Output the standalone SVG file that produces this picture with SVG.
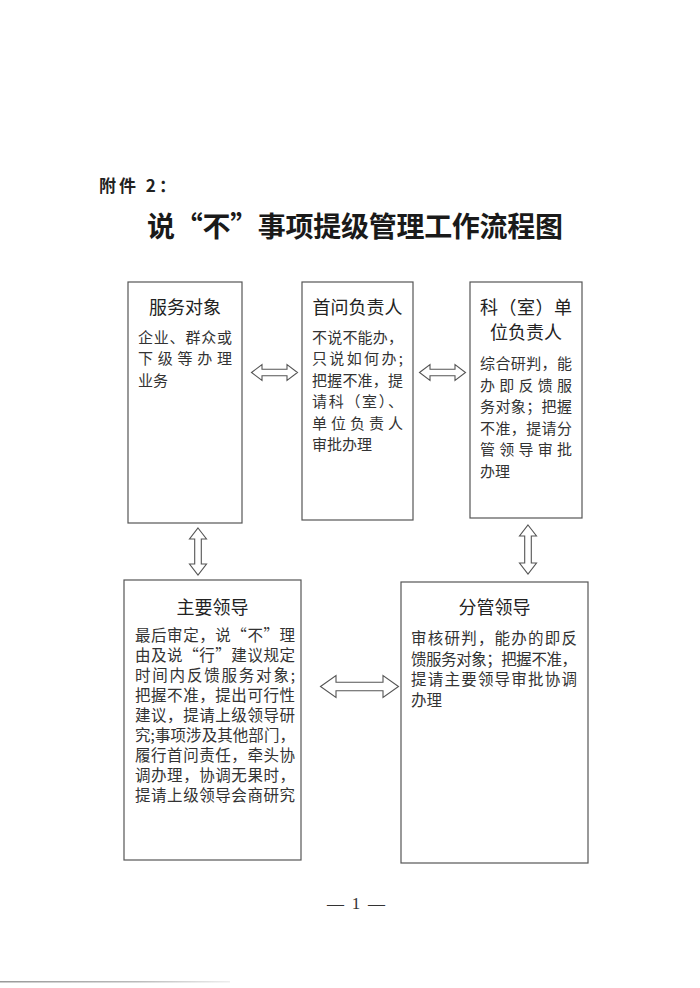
<svg xmlns="http://www.w3.org/2000/svg" width="700" height="988" viewBox="0 0 700 988">
<style>
.box{fill:#fff;stroke:#555;stroke-width:1.2}
.arr{fill:#fff;stroke:#555;stroke-width:1.1;stroke-linejoin:miter}
.h{font-family:"Noto Sans CJK SC","Noto Sans",sans-serif;font-size:18px;fill:#222;text-anchor:middle}
.b{font-family:"Noto Sans CJK SC","Noto Sans",sans-serif;font-size:15px;fill:#333}
.b2{font-family:"Noto Sans CJK SC","Noto Sans",sans-serif;font-size:15.5px;fill:#333}
</style>
<defs>
<linearGradient id="scan" x1="0" x2="1" y1="0" y2="0">
<stop offset="0" stop-color="#999"/><stop offset="0.6" stop-color="#bbb"/><stop offset="1" stop-color="#eee"/>
</linearGradient>
</defs>
<rect x="0" y="0" width="700" height="988" fill="#fff"/>
<text x="99" y="192" font-family="Noto Sans CJK SC,Noto Sans,sans-serif" font-size="17" font-weight="bold" fill="#222" letter-spacing="3">附件 2：</text>
<text x="147" y="237" font-family="Noto Sans CJK SC,Noto Sans,sans-serif" font-size="28" font-weight="bold" fill="#1a1a1a" textLength="416" lengthAdjust="spacing">说“不”事项提级管理工作流程图</text>

<g id="connectors">
<polygon class="arr" points="251.5,372.5 262,364.5 262,369.3 287,369.3 287,364.5 297.5,372.5 287,380.5 287,375.7 262,375.7 262,380.5"/>
<polygon class="arr" points="419.5,372.5 430,364.5 430,369.3 455,369.3 455,364.5 465.5,372.5 455,380.5 455,375.7 430,375.7 430,380.5"/>
<polygon class="arr" points="320.5,686.5 336,675.5 336,682.3 383,682.3 383,675.5 398.5,686.5 383,697.5 383,690.7 336,690.7 336,697.5"/>
<polygon class="arr" points="198,528 206.5,539 201.3,539 201.3,564 206.5,564 198,575 189.5,564 194.7,564 194.7,539 189.5,539"/>
<polygon class="arr" points="528,525 536.5,536 531.3,536 531.3,563 536.5,563 528,574 519.5,563 524.7,563 524.7,536 519.5,536"/>
</g>

<g id="n1">
<rect class="box" x="128" y="282" width="114" height="241"/>
<text class="h" x="185" y="314">服务对象</text>
<text class="b" x="138" y="343" textLength="94" lengthAdjust="spacing">企业、群众或</text>
<text class="b" x="138" y="364.4" textLength="94" lengthAdjust="spacing">下级等办理</text>
<text class="b" x="138" y="385.8">业务</text>
</g>

<g id="n2">
<rect class="box" x="302" y="282" width="111" height="238"/>
<text class="h" x="357.5" y="314">首问负责人</text>
<text class="b" x="312" y="343" textLength="91" lengthAdjust="spacing">不说不能办，</text>
<text class="b" x="312" y="364.4" textLength="91" lengthAdjust="spacing">只说如何办;</text>
<text class="b" x="312" y="385.8" textLength="91" lengthAdjust="spacing">把握不准，提</text>
<text class="b" x="312" y="407.2" textLength="91" lengthAdjust="spacing">请科（室）、</text>
<text class="b" x="312" y="428.6" textLength="91" lengthAdjust="spacing">单位负责人</text>
<text class="b" x="312" y="450">审批办理</text>
</g>

<g id="n3">
<rect class="box" x="470" y="282" width="112" height="236"/>
<text class="h" x="526" y="314" textLength="92" lengthAdjust="spacing">科（室）单</text>
<text class="h" x="526" y="339">位负责人</text>
<text class="b" x="480" y="369" textLength="92" lengthAdjust="spacing">综合研判，能</text>
<text class="b" x="480" y="390.5" textLength="92" lengthAdjust="spacing">办即反馈服</text>
<text class="b" x="480" y="412" textLength="92" lengthAdjust="spacing">务对象；把握</text>
<text class="b" x="480" y="433.5" textLength="92" lengthAdjust="spacing">不准，提请分</text>
<text class="b" x="480" y="455" textLength="92" lengthAdjust="spacing">管领导审批</text>
<text class="b" x="480" y="476.5">办理</text>
</g>

<g id="n4">
<rect class="box" x="124" y="580" width="177" height="280"/>
<text class="h" x="212.5" y="614">主要领导</text>
<text class="b2" x="135" y="641" textLength="160" lengthAdjust="spacing">最后审定，说“不”理</text>
<text class="b2" x="135" y="661" textLength="160" lengthAdjust="spacing">由及说“行”建议规定</text>
<text class="b2" x="135" y="681" textLength="160" lengthAdjust="spacing">时间内反馈服务对象;</text>
<text class="b2" x="135" y="701" textLength="160" lengthAdjust="spacing">把握不准，提出可行性</text>
<text class="b2" x="135" y="721" textLength="160" lengthAdjust="spacing">建议，提请上级领导研</text>
<text class="b2" x="135" y="741" textLength="160" lengthAdjust="spacing">究;事项涉及其他部门，</text>
<text class="b2" x="135" y="761" textLength="160" lengthAdjust="spacing">履行首问责任，牵头协</text>
<text class="b2" x="135" y="781" textLength="160" lengthAdjust="spacing">调办理，协调无果时，</text>
<text class="b2" x="135" y="801" textLength="160" lengthAdjust="spacing">提请上级领导会商研究</text>
</g>

<g id="n5">
<rect class="box" x="401" y="582" width="187" height="281"/>
<text class="h" x="494.5" y="614">分管领导</text>
<text class="b2" x="411" y="644" textLength="166" lengthAdjust="spacing">审核研判，能办的即反</text>
<text class="b2" x="411" y="664.5" textLength="166" lengthAdjust="spacing">馈服务对象；把握不准，</text>
<text class="b2" x="411" y="685" textLength="166" lengthAdjust="spacing">提请主要领导审批协调</text>
<text class="b2" x="411" y="705.5">办理</text>
</g>

<text x="327" y="909" font-family="Liberation Serif,serif" font-size="17" fill="#333" textLength="58" lengthAdjust="spacing">— 1 —</text>
<rect x="0" y="981" width="230" height="1.5" fill="url(#scan)"/>
</svg>
